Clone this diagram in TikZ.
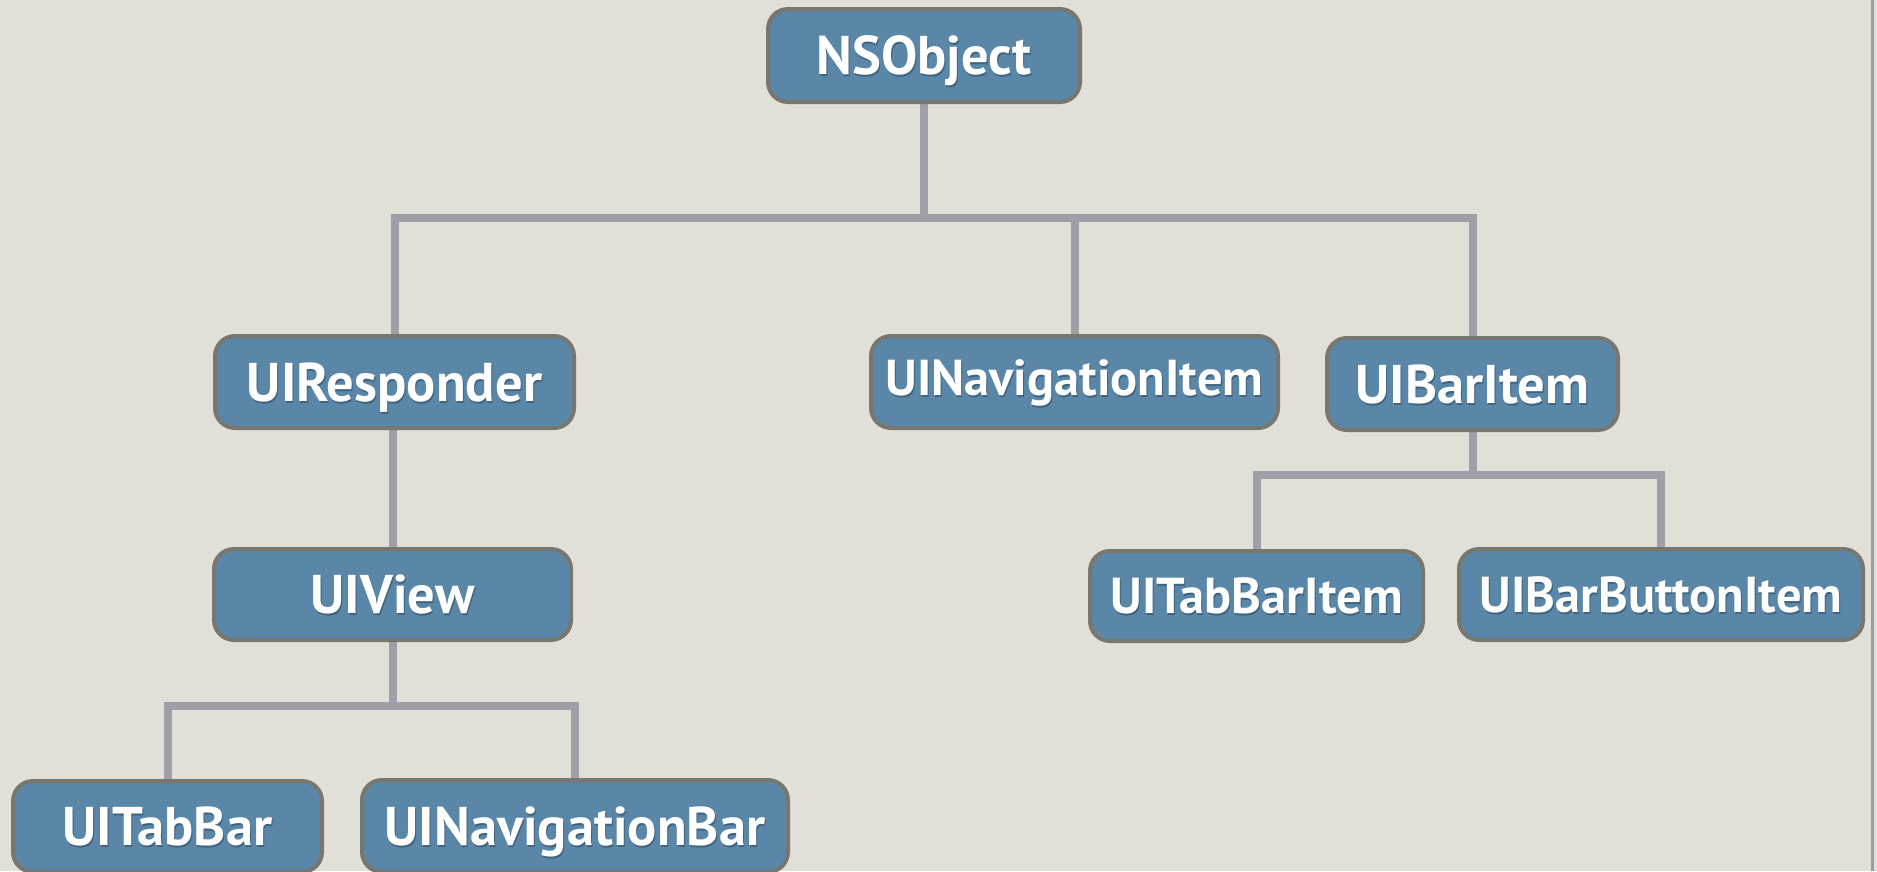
\documentclass[tikz,border=0pt]{standalone}
\usepackage{fontspec}
\newfontfamily\boxfont{PT Sans}
\usetikzlibrary{backgrounds}
\definecolor{bgcol}{HTML}{E0E0D9}
\definecolor{boxfill}{HTML}{5A87A7}
\definecolor{boxline}{HTML}{77776F}
\definecolor{conncol}{HTML}{A09FA8}
\definecolor{framecol}{HTML}{9A9AA0}
\definecolor{shadowcol}{HTML}{3E6480}
\newcommand{\shd}[1]{\makebox[0pt][l]{\hspace{1pt}\raisebox{-2pt}{\textcolor{shadowcol}{#1}}}#1}
\tikzset{
  box/.style={draw=boxline, fill=boxfill, line width=4pt, rounded corners=20pt,
    inner sep=0pt, text=white, anchor=center,
    font=\boxfont\bfseries\fontsize{54.5}{54.5}\selectfont,
    text height=38.2pt, text depth=0pt},
  smallbox/.style={box, font=\boxfont\bfseries\fontsize{50.5}{50.5}\selectfont,
    text height=35.4pt, text depth=0pt},
  conn/.style={draw=conncol, line width=8pt, line join=miter}
}
\begin{document}
\begin{tikzpicture}[x=1pt, y=-1pt]
\useasboundingbox (0,0) rectangle (1877,871);
\begin{scope}[on background layer]
  \fill[bgcol] (0,0) rectangle (1877,871);
  \draw[framecol, line width=3pt] (1872,0) -- (1872,871);
\end{scope}

\node[box, minimum width=312pt, minimum height=93pt] (ns) at (924,55.5) {\shd{NSObject}};
\node[box, minimum width=359pt, minimum height=92pt] (resp) at (394.5,382) {\shd{UIResponder}};
\node[smallbox, minimum width=407pt, minimum height=92pt] (navitem) at (1074.5,382) {\raisebox{4pt}{\shd{UINavigationItem}}};
\node[box, minimum width=291pt, minimum height=92pt] (baritem) at (1472.5,384) {\shd{UIBarItem}};
\node[box, minimum width=357pt, minimum height=91pt] (view) at (392.5,594.5) {\shd{UIView}};
\node[smallbox, minimum width=333pt, minimum height=90pt] (tabbaritem) at (1256.5,596) {\shd{UITabBarItem}};
\node[smallbox, minimum width=404pt, minimum height=91pt] (barbutton) at (1661,594.5) {\shd{UIBarButtonItem}};
\node[box, minimum width=309pt, minimum height=91pt] (tabbar) at (167.5,826.5) {\shd{UITabBar}};
\node[box, minimum width=426pt, minimum height=92pt] (navbar) at (575,826) {\shd{UINavigationBar}};

\coordinate (busA) at (0,218);
\coordinate (busB) at (0,706);
\coordinate (busC) at (0,475);

\begin{scope}[on background layer]
  \draw[conn] (ns.south) -- (ns.south |- busA);
  \draw[conn] (resp.north) |- (baritem.north |- busA) -- (baritem.north);
  \draw[conn] (navitem.north) -- (navitem.north |- busA);
  \draw[conn] (view.north) -- (view.north |- resp.south);
  \draw[conn] (view.south) -- (view.south |- busB);
  \draw[conn] (tabbar.north) |- (navbar.north |- busB) -- (navbar.north);
  \draw[conn] (baritem.south) -- (baritem.south |- busC);
  \draw[conn] (tabbaritem.north) |- (barbutton.north |- busC) -- (barbutton.north);
\end{scope}
\end{tikzpicture}
\end{document}
